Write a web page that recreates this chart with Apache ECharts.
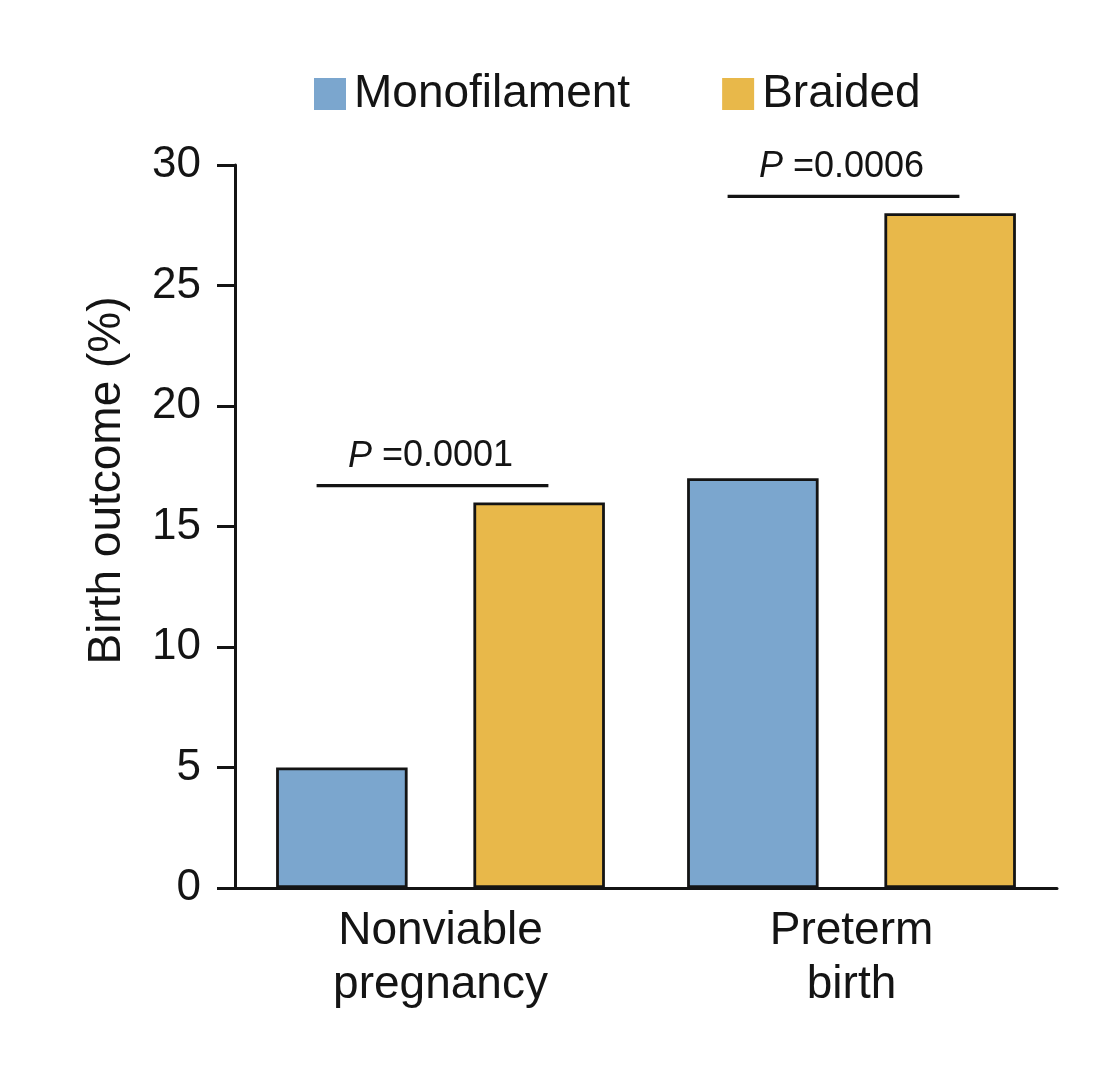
<!DOCTYPE html>
<html>
<head>
<meta charset="utf-8">
<script src="https://cdn.jsdelivr.net/npm/echarts@6/dist/echarts.min.js"></script>
<style>
html,body{margin:0;padding:0;background:#fff;}
#chart{width:1118px;height:1092px;}
</style>
</head>
<body>
<div id="chart"></div>
<script>
const categories = ['Nonviable\npregnancy', 'Preterm\nbirth'];
const seriesNames = ['Monofilament', 'Braided'];
const monofilament = [5, 17];
const braided = [16, 28];
const yTicks = { min: 0, max: 30, interval: 5 };
const pBarHeights = [16.7, 28.7];
const pValues = ['0.0001', '0.0006'];

const FONT = '"Liberation Sans", Arial, Helvetica, sans-serif';
const INK = '#141414';
const colors = ['#7BA6CE', '#E8B84A'];

const chart = echarts.init(document.getElementById('chart'), null, { renderer: 'canvas' });

const barStyle = (c) => ({ color: c, borderColor: INK, borderWidth: 2.8 });

const option = {
  backgroundColor: '#ffffff',
  animation: false,
  textStyle: { fontFamily: FONT, color: INK },
  legend: {
    left: 309,
    top: 66,
    itemWidth: 32,
    itemHeight: 32,
    itemGap: 92,
    icon: 'rect',
    data: seriesNames,
    itemStyle: { borderWidth: 0 },
    textStyle: { fontFamily: FONT, fontSize: 46, color: INK, padding: [0, 0, 0, 3] }
  },
  grid: { left: 235, right: 61, top: 165, bottom: 204, containLabel: false },
  xAxis: {
    type: 'category',
    data: categories,
    axisLine: { lineStyle: { color: INK, width: 3 } },
    axisTick: { alignWithLabel: true, length: 14, lineStyle: { color: INK, width: 2.5 } },
    axisLabel: { fontFamily: FONT, fontSize: 46, color: INK, lineHeight: 54, margin: 16 }
  },
  yAxis: {
    type: 'value',
    min: yTicks.min,
    max: yTicks.max,
    interval: yTicks.interval,
    name: 'Birth outcome (%)',
    nameLocation: 'middle',
    nameRotate: 90,
    nameGap: 105,
    nameTextStyle: { fontFamily: FONT, fontSize: 46, color: INK, padding: [0, 0, 0, 92] },
    axisLine: { show: true, lineStyle: { color: INK, width: 3 } },
    axisTick: { show: true, length: 18, lineStyle: { color: INK, width: 3 } },
    axisLabel: { fontFamily: FONT, fontSize: 44, color: INK, margin: 34 },
    splitLine: { show: false }
  },
  series: [
    {
      name: seriesNames[0], type: 'bar', data: monofilament,
      barGap: '50%', barCategoryGap: '20%',
      itemStyle: barStyle(colors[0])
    },
    {
      name: seriesNames[1], type: 'bar', data: braided,
      barGap: '50%', barCategoryGap: '20%',
      itemStyle: barStyle(colors[1])
    },
    {
      type: 'custom',
      silent: true,
      z: 10,
      data: pBarHeights.map((h, i) => [i, h, pValues[i]]),
      renderItem: function (params, api) {
        const c = api.coord([api.value(0), api.value(1)]);
        const bw = api.size([1, 0])[0];
        const half = bw * 0.282;
        const cx = c[0] - 8;
        return {
          type: 'group',
          children: [
            {
              type: 'line',
              shape: { x1: cx - half, y1: c[1], x2: cx + half, y2: c[1] },
              style: { stroke: INK, lineWidth: 3.2 }
            },
            {
              type: 'text',
              x: cx - 2,
              y: c[1] - 11,
              style: {
                text: '{i|P}{n| =' + api.value(2) + '}',
                align: 'center',
                verticalAlign: 'bottom',
                fontFamily: FONT,
                fontSize: 36,
                fill: INK,
                rich: {
                  i: { fontStyle: 'italic', fontFamily: FONT, fontSize: 36, color: INK },
                  n: { fontFamily: FONT, fontSize: 36, color: INK }
                }
              }
            }
          ]
        };
      }
    }
  ]
};

chart.setOption(option);
</script>
</body>
</html>
